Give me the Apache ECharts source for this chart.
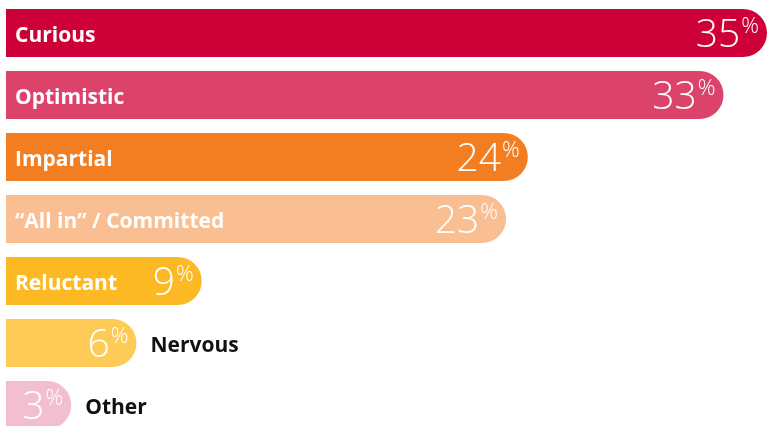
<!DOCTYPE html>
<html>
<head>
<meta charset="utf-8">
<script src="https://cdn.jsdelivr.net/npm/echarts@6/dist/echarts.min.js"></script>
<style>
  html, body { margin: 0; padding: 0; background: #ffffff; }
  #chart { width: 767px; height: 426px; }
</style>
</head>
<body>
<div id="chart"></div>
<script>
// Survey answers: how people feel, share of respondents (%)
const categories = ['Curious', 'Optimistic', 'Impartial', '\u201CAll in\u201D / Committed', 'Reluctant', 'Nervous', 'Other'];
const values = [35, 33, 24, 23, 9, 6, 3];
const colors = ['#CD0037', '#DB436B', '#F37E22', '#F9BE92', '#FDB924', '#FECB56', '#F2BFCE'];
// Names that sit outside their (short) bars
const outsideNames = ['Nervous', 'Other'];

const chart = echarts.init(document.getElementById('chart'), null, { renderer: 'canvas' });

const valueLabelRich = {
  n: { fontFamily: 'Open Sans', fontWeight: 300, fontSize: 39, color: '#ffffff', lineHeight: 42 },
  p: { fontFamily: 'Open Sans', fontWeight: 300, fontSize: 22, color: '#ffffff', verticalAlign: 'top', lineHeight: 22, padding: [1, 0, 0, 1] }
};

chart.setOption({
  animation: false,
  // the last row runs past the bottom edge, so the grid may leave the canvas
  grid: { left: 6, top: 2, width: 761, height: 434, containLabel: false, outerBoundsMode: 'none' },
  xAxis: { type: 'value', min: 0, max: 35, show: false },
  yAxis: {
    type: 'category', data: categories, inverse: true, show: false
  },
  series: [
    {
      type: 'bar',
      barWidth: 48,
      data: values.map((v, i) => ({ value: v, itemStyle: { color: colors[i] } })),
      itemStyle: { borderRadius: [0, 24, 24, 0] },
      label: {
        show: true,
        position: 'insideRight',
        distance: 8,
        offset: [0, 3],
        formatter: p => '{n|' + p.value + '}{p|%}',
        rich: valueLabelRich
      },
      z: 2
    },
    {
      // overlay carrying the answer names
      type: 'bar',
      barWidth: 48,
      barGap: '-100%',
      silent: true,
      data: values.map((v, i) => {
        const outside = outsideNames.includes(categories[i]);
        return {
          value: v,
          itemStyle: { color: 'rgba(0,0,0,0)' },
          label: outside
            ? { position: 'right', distance: 14, color: '#111111' }
            : { position: 'insideLeft', distance: 9, color: '#ffffff' }
        };
      }),
      label: {
        show: true,
        formatter: p => categories[p.dataIndex],
        fontFamily: 'Open Sans',
        fontWeight: 700,
        fontSize: 21,
        offset: [0, 3]
      },
      z: 3
    }
  ]
});
</script>
</body>
</html>
